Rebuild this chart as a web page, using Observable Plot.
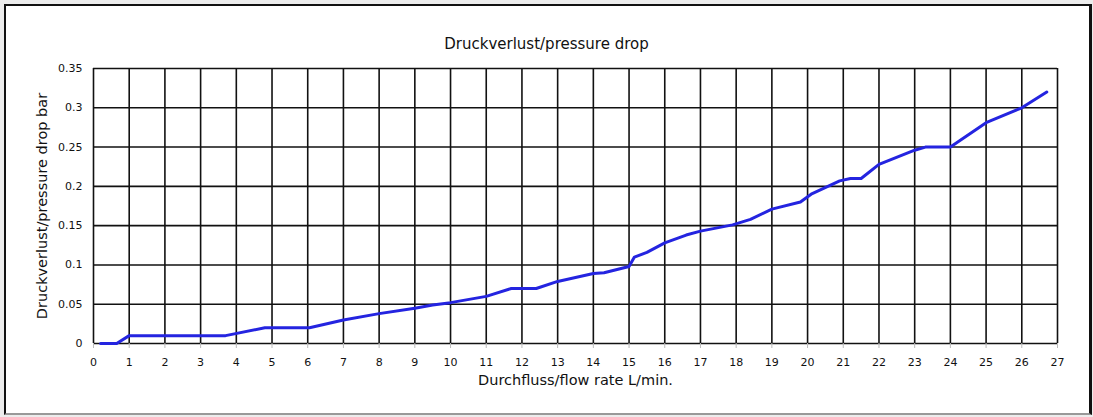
<!DOCTYPE html>
<html>
<head>
<meta charset="utf-8">
<script src="https://cdn.jsdelivr.net/npm/d3@7"></script>
<script src="https://cdn.jsdelivr.net/npm/@observablehq/plot@0.6"></script>
<style>
  html, body { margin: 0; padding: 0; background: #ffffff; }
  #wrap { position: relative; width: 1093px; height: 417px; overflow: hidden; background: #ececec; }
  #box { position: absolute; left: 4px; top: 4px; width: 1083px; height: 407px; background: #fff;
         border-left: 2px solid #111; border-top: 2px solid #111; border-right: 3px solid #111; border-bottom: 2px solid #999; }
  #chart { position: absolute; left: 0; top: 0; }
  #title { position: absolute; left: 0; top: 35px; width: 1093px; text-align: center;
           font-family: "DejaVu Sans", sans-serif; font-size: 15px; color: #111; }
</style>
</head>
<body>
<div id="wrap">
  <div id="box"></div>
  <div id="chart"></div>
  <div id="title">Druckverlust/pressure drop</div>
</div>
<script>
const titleText = "Druckverlust/pressure drop";
const xLabel = "Durchfluss/flow rate L/min.";
const yLabel = "Druckverlust/pressure drop bar";
const xTicks = d3.range(0, 28, 1);
const yTicks = [0, 0.05, 0.1, 0.15, 0.2, 0.25, 0.3, 0.35];
const yTickLabels = ["0", "0.05", "0.1", "0.15", "0.2", "0.25", "0.3", "0.35"];

const flow = [0.2, 0.65, 1.0, 3.7, 4.8, 6.05, 7.0, 8.0, 9.0, 9.5, 10.0, 11.0, 11.7, 12.4, 13.0, 14.0, 14.3, 15.0, 15.15, 15.5, 16.0, 16.6, 17.0, 17.9, 18.4, 19.0, 19.8, 20.1, 20.9, 21.2, 21.5, 22.0, 23.0, 23.3, 24.0, 25.0, 26.0, 26.7];
const drop = [0, 0, 0.01, 0.01, 0.02, 0.02, 0.03, 0.038, 0.045, 0.049, 0.052, 0.06, 0.07, 0.07, 0.079, 0.089, 0.09, 0.098, 0.11, 0.116, 0.128, 0.138, 0.143, 0.151, 0.158, 0.171, 0.18, 0.19, 0.207, 0.21, 0.21, 0.228, 0.246, 0.25, 0.25, 0.281, 0.30, 0.32];

const data = flow.map((x, i) => ({x, y: drop[i]}));

const chart = Plot.plot({
  width: 1093,
  height: 417,
  marginLeft: 93,
  marginRight: 36,
  marginTop: 68,
  marginBottom: 74,
  style: { fontFamily: "DejaVu Sans, sans-serif", fontSize: "11px", color: "#111", background: "transparent" },
  x: { domain: [0, 27], ticks: xTicks },
  y: { domain: [0, 0.35], ticks: yTicks },
  marks: [
    Plot.gridX(xTicks, { stroke: "#111", strokeOpacity: 1, strokeWidth: 1.6 }),
    Plot.gridY(yTicks, { stroke: "#111", strokeOpacity: 1, strokeWidth: 1.6 }),
    Plot.axisX(xTicks, { tickSize: 5, stroke: "#bbb", tickPadding: 10, label: null, fontSize: 11 }),
    Plot.axisY(yTicks, { tickSize: 0, tickPadding: 11, tickFormat: (d, i) => yTickLabels[i], label: null, fontSize: 11 }),
    Plot.text([xLabel], { frameAnchor: "bottom", dy: 37, lineAnchor: "middle", textAnchor: "middle", text: d => d, fontSize: 14.5, fill: "#111" }),
    Plot.text([yLabel], { frameAnchor: "left", dx: -51, rotate: -90, lineAnchor: "middle", textAnchor: "middle", text: d => d, fontSize: 14.5, fill: "#111" }),
    Plot.line(data, { x: "x", y: "y", stroke: "#2424e0", strokeWidth: 3 })
  ]
});
document.getElementById("chart").appendChild(chart);
</script>
</body>
</html>
